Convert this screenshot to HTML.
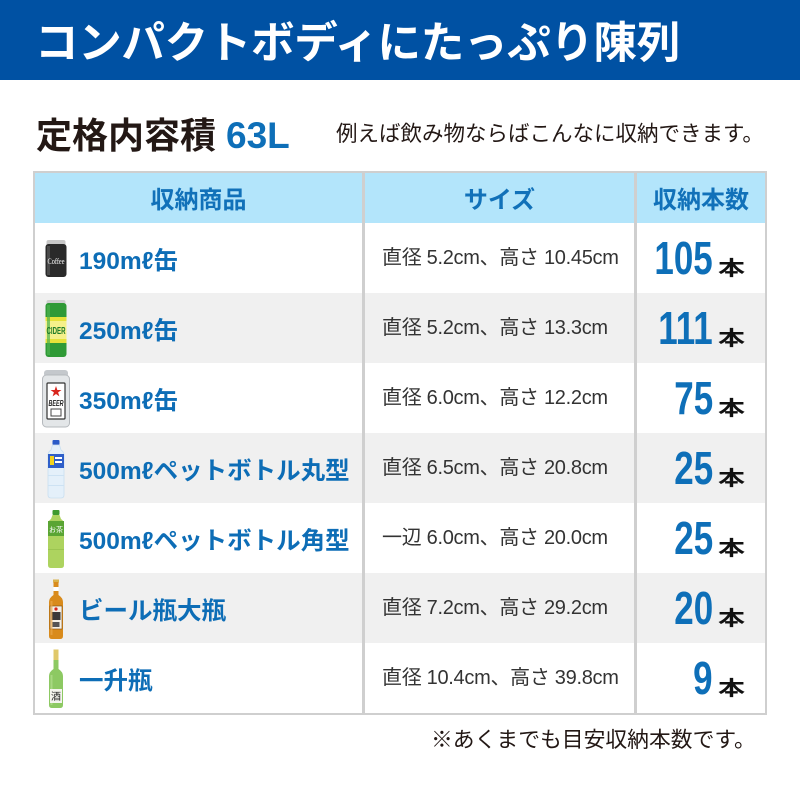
<!DOCTYPE html>
<html><head><meta charset="utf-8">
<style>
*{margin:0;padding:0;box-sizing:border-box}
body{width:800px;height:800px;background:#fff;position:relative;overflow:hidden;font-family:"Liberation Sans","Noto Sans CJK JP",sans-serif}
.abs{position:absolute}
.hdr{left:0;top:0;width:800px;height:80px;background:#0051a3}
.title{left:35px;top:0;height:80px;line-height:80px;color:#fff;font-size:43.5px;font-weight:700;letter-spacing:-0.3px;white-space:nowrap;font-family:"Noto Sans CJK JP",sans-serif}
.cap{left:36px;top:108px;height:50px;line-height:50px;font-size:36px;font-weight:700;color:#231815;white-space:nowrap;font-family:"Noto Sans CJK JP",sans-serif}
.cap .v{color:#0e6fb8;font-family:"Liberation Sans",sans-serif;font-size:37px;font-weight:700;margin-left:10px}
.sub{left:336px;top:118px;height:30px;line-height:30px;font-size:21.5px;color:#231815;white-space:nowrap;font-family:"Noto Sans CJK JP",sans-serif}
.tbl{left:33px;top:171px;width:734px;height:544px;border:2px solid #cfcfcf}
.th{left:35px;top:173px;width:730px;height:50px;background:#b3e5fb}
.gray{left:35px;width:730px;height:70px;background:#f0f0f0}
.div{top:173px;width:3px;height:540px;background:#cfcfcf}
.hc{top:173px;height:50px;line-height:50px;text-align:center;color:#1171b9;font-size:24px;font-weight:700;font-family:"Noto Sans CJK JP",sans-serif}
.c1{left:79px;height:70px;line-height:78px;font-size:24.5px;font-weight:700;color:#0d6db6;white-space:nowrap;font-family:"Liberation Sans","Noto Sans CJK JP",sans-serif}
.c2{left:382px;height:70px;line-height:70px;font-size:20px;color:#333;white-space:nowrap;font-family:"Liberation Sans","Noto Sans CJK JP",sans-serif;letter-spacing:-0.3px}
.c3{left:600px;width:113px;height:70px;line-height:70px;text-align:right;white-space:nowrap}
.c3 span{display:inline-block;font-family:"Liberation Sans",sans-serif;font-weight:700;font-size:46px;color:#0e6fb8;transform:scaleX(0.76);transform-origin:right center}
.hon{left:718px;height:70px;line-height:88px;font-size:20px;font-weight:700;color:#111;font-family:"Noto Sans CJK JP",sans-serif;transform:scaleX(1.35);transform-origin:left center}
.note{left:431px;top:724px;height:30px;line-height:30px;font-size:21.8px;color:#231815;white-space:nowrap;font-family:"Noto Sans CJK JP",sans-serif}
</style></head><body>
<div class="abs hdr"></div>
<div class="abs title">コンパクトボディにたっぷり陳列</div>
<div class="abs cap">定格内容積<span class="v">63L</span></div>
<div class="abs sub">例えば飲み物ならばこんなに収納できます。</div>

<div class="abs tbl"></div>
<div class="abs th"></div>
<div class="abs gray" style="top:293px"></div>
<div class="abs gray" style="top:433px"></div>
<div class="abs gray" style="top:573px"></div>
<div class="abs div" style="left:362px"></div>
<div class="abs div" style="left:634px"></div>

<div class="abs hc" style="left:35px;width:327px">収納商品</div>
<div class="abs hc" style="left:365px;width:269px">サイズ</div>
<div class="abs hc" style="left:637px;width:128px">収納本数</div>

<!-- rows -->
<div class="abs c1" style="top:223px">190mℓ缶</div>
<div class="abs c1" style="top:293px">250mℓ缶</div>
<div class="abs c1" style="top:363px">350mℓ缶</div>
<div class="abs c1" style="top:433px">500mℓペットボトル丸型</div>
<div class="abs c1" style="top:503px">500mℓペットボトル角型</div>
<div class="abs c1" style="top:573px">ビール瓶大瓶</div>
<div class="abs c1" style="top:643px">一升瓶</div>

<div class="abs c2" style="top:223px">直径 5.2cm、高さ 10.45cm</div>
<div class="abs c2" style="top:293px">直径 5.2cm、高さ 13.3cm</div>
<div class="abs c2" style="top:363px">直径 6.0cm、高さ 12.2cm</div>
<div class="abs c2" style="top:433px">直径 6.5cm、高さ 20.8cm</div>
<div class="abs c2" style="top:503px">一辺 6.0cm、高さ 20.0cm</div>
<div class="abs c2" style="top:573px">直径 7.2cm、高さ 29.2cm</div>
<div class="abs c2" style="top:643px">直径 10.4cm、高さ 39.8cm</div>

<div class="abs c3" style="top:223px"><span>105</span></div>
<div class="abs c3" style="top:293px"><span>111</span></div>
<div class="abs c3" style="top:363px"><span>75</span></div>
<div class="abs c3" style="top:433px"><span>25</span></div>
<div class="abs c3" style="top:503px"><span>25</span></div>
<div class="abs c3" style="top:573px"><span>20</span></div>
<div class="abs c3" style="top:643px"><span>9</span></div>

<div class="abs hon" style="top:223px">本</div>
<div class="abs hon" style="top:293px">本</div>
<div class="abs hon" style="top:363px">本</div>
<div class="abs hon" style="top:433px">本</div>
<div class="abs hon" style="top:503px">本</div>
<div class="abs hon" style="top:573px">本</div>
<div class="abs hon" style="top:643px">本</div>

<!-- icons -->
<svg class="abs" style="left:44px;top:239px" width="24" height="40" viewBox="0 0 24 40">
<rect x="2.5" y="1" width="19" height="6" rx="2" fill="#c8c8c8"/>
<rect x="1.5" y="5" width="21" height="33" rx="3" fill="#2a2a2a"/>
<rect x="3" y="7" width="3" height="29" fill="#4a4a4a"/>
<text x="12" y="25" font-size="8" fill="#fff" text-anchor="middle" font-family="Liberation Serif" textLength="17" lengthAdjust="spacingAndGlyphs">Coffee</text>
</svg>

<svg class="abs" style="left:44px;top:299px" width="24" height="60" viewBox="0 0 24 60">
<rect x="2.5" y="1" width="19" height="5" rx="2" fill="#cfcfcf"/>
<rect x="1.5" y="4" width="21" height="54" rx="3" fill="#2f9a36"/>
<rect x="1.5" y="18" width="21" height="26" fill="#e6e23a"/>
<rect x="1.5" y="22" width="21" height="18" fill="#f5f08a"/>
<rect x="3" y="6" width="3" height="50" fill="#4cb24f" opacity="0.7"/>
<text x="12" y="35" font-size="10" fill="#1f7a28" font-weight="bold" text-anchor="middle" font-family="Liberation Sans" textLength="19" lengthAdjust="spacingAndGlyphs">CIDER</text>
</svg>

<svg class="abs" style="left:41px;top:369px" width="30" height="60" viewBox="0 0 30 60">
<rect x="3" y="1" width="24" height="7" rx="3" fill="#c4c8cc"/>
<rect x="1.5" y="6" width="27" height="52" rx="4" fill="#e3e6e8" stroke="#b5b9bd" stroke-width="1"/>
<rect x="6" y="14" width="18" height="36" rx="1" fill="#fff" stroke="#333" stroke-width="1.2"/>
<polygon points="15,17 16.3,21 20.5,21 17.1,23.4 18.4,27.4 15,25 11.6,27.4 12.9,23.4 9.5,21 13.7,21" fill="#d8251d"/>
<text x="15" y="37" font-size="8" fill="#222" font-weight="bold" font-style="italic" text-anchor="middle" font-family="Liberation Sans" textLength="15" lengthAdjust="spacingAndGlyphs">BEER</text>
<rect x="10" y="40" width="10" height="7" fill="#fff" stroke="#444" stroke-width="1"/>
</svg>

<svg class="abs" style="left:46px;top:439px" width="20" height="60" viewBox="0 0 20 60">
<rect x="6.5" y="1" width="7" height="5" rx="1" fill="#2a5bc8"/>
<path d="M6.5 6 H13.5 L15 11 Q18 13 18 16 V56 Q18 59 15 59 H5 Q2 59 2 56 V16 Q2 13 5 11 Z" fill="#e4f0fa" stroke="#c9dff0" stroke-width="0.8"/>
<rect x="2" y="15" width="16" height="14" fill="#2f5fc9"/>
<rect x="4" y="17" width="4" height="9" fill="#f2d21c"/>
<rect x="9" y="18" width="7" height="2" fill="#fff"/>
<rect x="9" y="22" width="7" height="2" fill="#fff"/>
<rect x="2" y="36" width="16" height="1" fill="#cde2f3"/>
<rect x="2" y="46" width="16" height="1" fill="#cde2f3"/>
</svg>

<svg class="abs" style="left:46px;top:509px" width="20" height="60" viewBox="0 0 20 60">
<rect x="6.5" y="1" width="7" height="5" rx="1" fill="#3f9a2e"/>
<path d="M6.5 6 H13.5 L15 10 Q18 12 18 15 V56 Q18 59 15 59 H5 Q2 59 2 56 V15 Q2 12 5 10 Z" fill="#add35f"/>
<rect x="2" y="12" width="16" height="15" fill="#5aa534"/>
<text x="10" y="23" font-size="7" fill="#fff" text-anchor="middle" font-family="Noto Sans CJK JP">お茶</text>
<rect x="2" y="40" width="16" height="1" fill="#9cc551"/>
</svg>

<svg class="abs" style="left:47px;top:579px" width="18" height="61" viewBox="0 0 18 61">
<rect x="6" y="0.5" width="6" height="3" fill="#d9b24c"/>
<path d="M6.5 3 H11.5 V16 Q16 19 16 23 V57 Q16 60 13 60 H5 Q2 60 2 57 V23 Q2 19 6.5 16 Z" fill="#d98b1c"/>
<rect x="6.5" y="8" width="5" height="4" fill="#fff"/>
<rect x="3" y="27" width="12" height="23" fill="#f4f0e6" stroke="#7a4a10" stroke-width="0.6"/>
<circle cx="9" cy="30" r="1.6" fill="#d8251d"/>
<rect x="4.5" y="33" width="9" height="8" fill="#3a3a3a"/>
<rect x="5.5" y="43" width="7" height="5" fill="#555"/>
<rect x="3.5" y="22" width="2" height="34" fill="#eaa84a" opacity="0.7"/>
</svg>

<svg class="abs" style="left:47px;top:649px" width="18" height="60" viewBox="0 0 18 60">
<rect x="6.5" y="0.5" width="5" height="11" fill="#e0c86a"/>
<path d="M6.5 11 H11.5 V20 Q16 23 16 27 V56 Q16 59 13 59 H5 Q2 59 2 56 V27 Q2 23 6.5 20 Z" fill="#8dc963"/>
<rect x="3.5" y="26" width="2" height="30" fill="#b4de8f" opacity="0.7"/>
<rect x="3" y="40" width="12" height="14" fill="#f4f4ee"/>
<text x="9" y="51" font-size="10" fill="#222" text-anchor="middle" font-family="Noto Sans CJK JP">酒</text>
</svg>

<div class="abs note">※あくまでも目安収納本数です。</div>
</body></html>
